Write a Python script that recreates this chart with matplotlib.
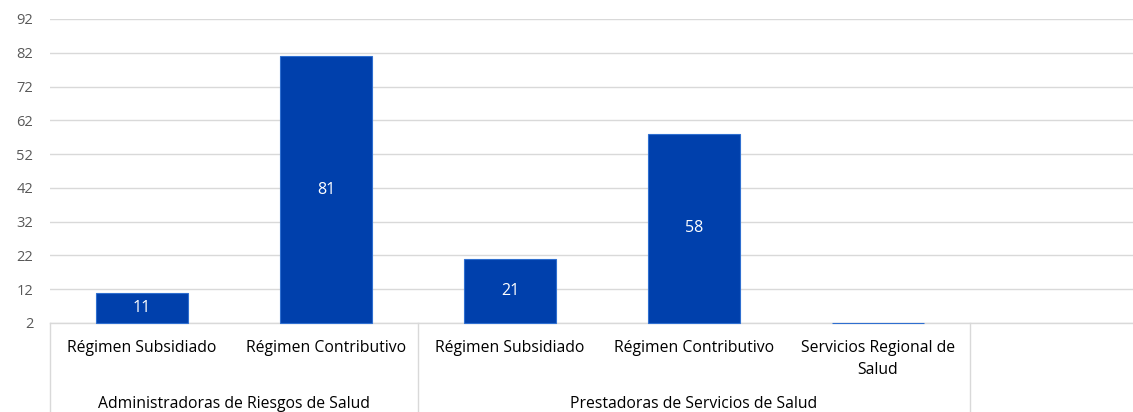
import matplotlib
matplotlib.use("Agg")
import matplotlib.pyplot as plt
import matplotlib.transforms as mtransforms

# data
categories = ["Régimen Subsidiado", "Régimen Contributivo",
              "Régimen Subsidiado", "Régimen Contributivo",
              "Servicios Regional de\nSalud"]
values = [11, 81, 21, 58, 2]
groups = ["Administradoras de Riesgos de Salud", "Prestadoras de Servicios de Salud"]
group_sizes = [2, 3]
y_ticks = [2, 12, 22, 32, 42, 52, 62, 72, 82, 92]

plt.rcParams['font.family'] = ['Open Sans', 'DejaVu Sans']

fig = plt.figure(figsize=(11.33, 4.12), dpi=100)
ax = fig.add_axes([50 / 1133, (412 - 323) / 412, 1 - 50 / 1133, (323 - 19) / 412])

base = y_ticks[0]
x = list(range(len(values)))
heights = [v - base for v in values]
ax.bar(x, heights, bottom=base, width=0.5, color='#0040AC',
       edgecolor='#2F6FD0', linewidth=0.8, zorder=3, clip_on=False)

for xi, v in zip(x, values):
    if v > base + 3:
        ax.text(xi, (v + base) / 2, str(v), ha='center', va='center',
                color='white', fontsize=11.5, zorder=4)

ax.set_ylim(base, y_ticks[-1])
ax.set_xlim(-0.5, (1133 - 50) / 184 - 0.5)
ax.set_yticks(y_ticks)
ax.set_xticks([])
ax.yaxis.grid(True, color='#d9d9d9', linewidth=1)
ax.set_axisbelow(True)
ax.tick_params(axis='y', length=0, pad=12, labelsize=10.5, labelcolor='#595959')
for s in ['top', 'right', 'left']:
    ax.spines[s].set_visible(False)
ax.spines['bottom'].set_color('#d9d9d9')
ax.spines['bottom'].set_linewidth(1)

trans = mtransforms.blended_transform_factory(ax.transData, ax.transAxes)
ax_h_px = 323 - 19

def ax_y(px_below):
    return -px_below / ax_h_px

for xi, c in zip(x, categories):
    ax.text(xi, ax_y(17), c, transform=trans, ha='center', va='top',
            fontsize=11.3, color='#000000', linespacing=1.5)

# group separators and labels
start = 0
bounds = [-0.5]
for g, n in zip(groups, group_sizes):
    mid = start + (n - 1) / 2
    ax.text(mid, ax_y(73), g, transform=trans, ha='center', va='top',
            fontsize=11.3, color='#000000')
    start += n
    bounds.append(start - 0.5)
for b in bounds:
    ax.plot([b, b], [0, ax_y(95)], transform=trans, color='#d9d9d9',
            linewidth=1, clip_on=False)

fig.savefig("out.png", dpi=100)
